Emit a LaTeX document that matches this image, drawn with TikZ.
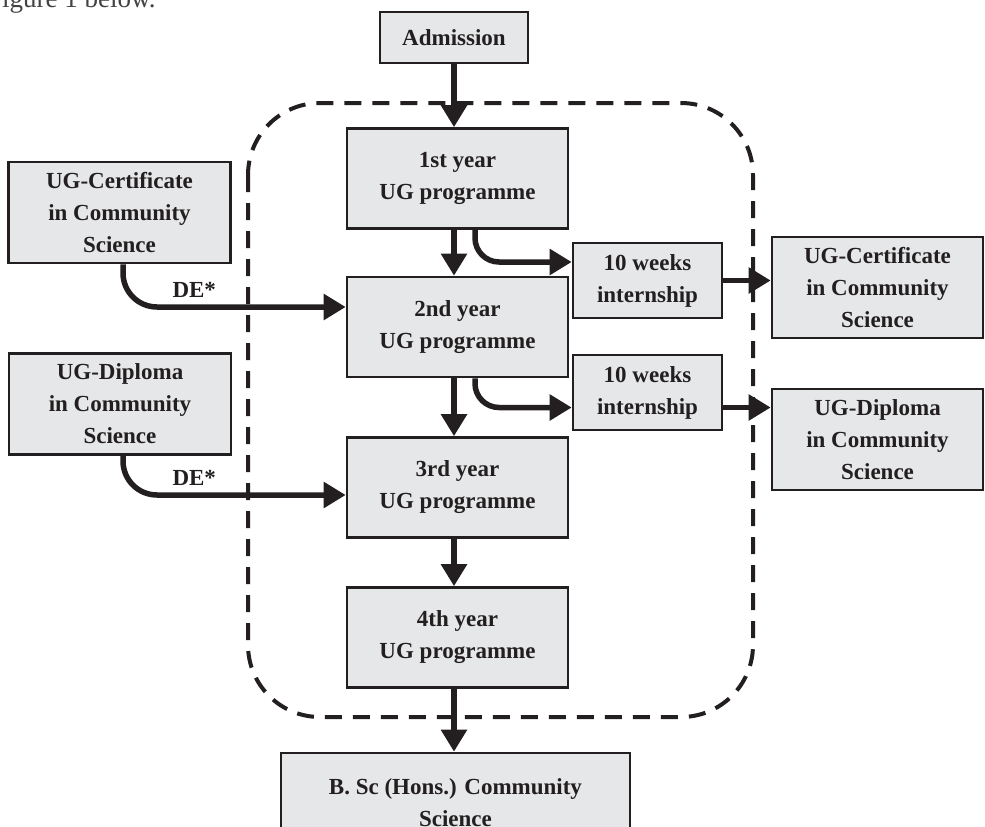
\documentclass[tikz,border=0pt]{standalone}
\usepackage{fontspec}
\setmainfont{Liberation Serif}
\usetikzlibrary{arrows.meta}
\definecolor{boxgray}{HTML}{E6E7E8}
\definecolor{ink}{HTML}{231F20}

\begin{document}
\begin{tikzpicture}[x=1pt,y=-1pt,
  box/.style={draw=ink,line width=2.6pt,fill=boxgray,align=center,text=ink,
    inner sep=0pt,font=\fontsize{23}{32}\selectfont\bfseries},
  yearbox/.style={box,minimum width=221pt,minimum height=100pt},
  sidebox/.style={box,minimum width=222pt,minimum height=101pt},
  outbox/.style={box,minimum width=211pt,minimum height=101pt},
  intbox/.style={box,minimum width=149pt,minimum height=75pt},
  flow/.style={draw=ink,line width=5.5pt,-{Triangle[length=22pt,width=25pt]}},
  frame/.style={draw=ink,line width=4pt,dash pattern=on 17pt off 11pt,rounded corners=72pt}]
  \useasboundingbox (0,0) rectangle (985,827);
  \clip (0,0) rectangle (985,827);

  % clipped caption line of the page above
  \node[anchor=base west,inner sep=0pt,text=ink!85,font=\fontsize{27}{30}\selectfont] (cap) at (-13,8) {Figure 1 below.};

  % dashed frame round the four years
  \draw[frame] (248,103) rectangle (753,717);

  \node[box,minimum width=148pt,minimum height=51pt] (adm) at (454,37.5) {Admission};
  \node[yearbox] (y1) at (457.5,178.5) {1st year\\UG programme};
  \node[yearbox] (y2) at (457.5,327) {2nd year\\UG programme};
  \node[yearbox] (y3) at (457.5,487.5) {3rd year\\UG programme};
  \node[yearbox] (y4) at (457.5,637.5) {4th year\\UG programme};
  \node[box,minimum width=349pt,minimum height=100pt] (bsc) at (455.5,803) {B. Sc (Hons.) Community\\Science};

  \node[sidebox] (certL) at (119.5,212.5) {UG-Certificate\\in Community\\Science};
  \node[sidebox] (dipL) at (120,404) {UG-Diploma\\in Community\\Science};

  \node[intbox] (int1) at (647.5,280.5) {10 weeks\\internship};
  \node[intbox] (int2) at (647.5,392.5) {10 weeks\\internship};

  \node[outbox] (certR) at (877.5,287.5) {UG-Certificate\\in Community\\Science};
  \node[outbox] (dipR) at (877.5,439.5) {UG-Diploma\\in Community\\Science};

  % main line
  \draw[flow] (adm.south) -- (adm.south |- y1.north);
  \draw[flow] (y1.south -| adm.south) -- (y2.north -| adm.south);
  \draw[flow] (y2.south -| adm.south) -- (y3.north -| adm.south);
  \draw[flow] (y3.south -| adm.south) -- (y4.north -| adm.south);
  \draw[flow] (y4.south -| adm.south) -- (bsc.north -| adm.south);

  % exits
  \draw[flow,rounded corners=24pt] ([xshift=17.5pt]y1.south) |- ([yshift=18.5pt]int1.west);
  \draw[flow,rounded corners=24pt] ([xshift=17.5pt]y2.south) |- ([yshift=-15pt]int2.west);
  \draw[flow] (int1.east) -- (int1.east -| certR.west);
  \draw[flow] ([yshift=-15pt]int2.east) -- ([yshift=-15pt]int2.east -| dipR.west);

  % direct entry
  \draw[flow,rounded corners=34pt] ([xshift=3.5pt]certL.south) |- ([yshift=20pt]y2.west)
    node[pos=0.66,above=3pt,text=ink,font=\fontsize{23}{32}\selectfont\bfseries] (de1) {DE*};
  \draw[flow,rounded corners=34pt] ([xshift=3pt]dipL.south) |- ([yshift=-7.5pt]y3.west)
    node[pos=0.66,above=3pt,text=ink,font=\fontsize{23}{32}\selectfont\bfseries] (de2) {DE*};
\end{tikzpicture}
\end{document}
